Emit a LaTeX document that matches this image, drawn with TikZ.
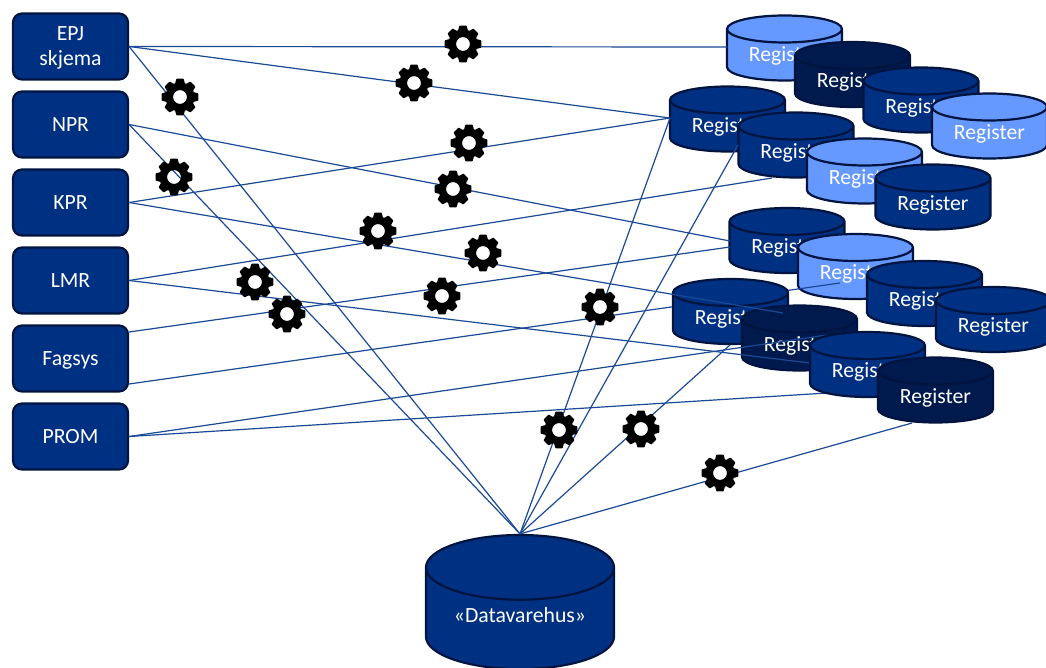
\documentclass[tikz,border=0pt]{standalone}
\usepackage{fontspec}
\setmainfont{Carlito}
\usetikzlibrary{shapes.geometric, positioning}

\definecolor{boxblue}{HTML}{003082}
\definecolor{darkblue}{HTML}{001A4D}
\definecolor{lightblue}{HTML}{6699FF}
\definecolor{edgeblue}{HTML}{00143F}
\definecolor{lineblue}{HTML}{1A4A96}

\tikzset{
    source/.style={draw=edgeblue, fill=boxblue, line width=2.2pt, rounded corners=9pt, text=white, font=\fontsize{21.7}{25}\selectfont, minimum width=115pt, minimum height=66pt, align=center, inner sep=0pt, text depth=0pt},
    register/.style={cylinder, anchor=shape center, shape border rotate=90, aspect=0.38, draw=edgeblue, line width=2.2pt, text=white, font=\fontsize{21.7}{25}\selectfont, minimum width=115pt, minimum height=65pt, inner sep=0pt, text depth=3pt, cylinder uses custom fill, cylinder body fill=#1, cylinder end fill=#1},
    feed/.style={draw=lineblue, line width=1.2pt},
    gearopen/.pic={
        \draw[black, line width=7.5pt] (0,0) circle (10.75pt);
        \foreach \a in {0,45,...,315}
            \filldraw[black, rotate=\a, line width=1.5pt, line join=round] (12,-4.6) -- (17.6,-3) -- (17.6,3) -- (12,4.6) -- cycle;
    },
    gearicon/.pic={
        \fill[white] (0,0) circle (8pt);
        \pic {gearopen};
    }
}

\begin{document}
\begin{tikzpicture}[x=1pt, y=-1pt]
        \clip (0,0) rectangle (1046,668);

        \node [source] (epj) at (70.5,46.5) {EPJ\\skjema};
        \node [source] (npr) at (70.5,124.5) {NPR};
        \node [source] (kpr) at (70.5,202.5) {KPR};
        \node [source] (lmr) at (70.5,280.5) {LMR};
        \node [source] (fagsys) at (70.5,358.5) {Fagsys};
        \node [source] (prom) at (70.5,436.5) {PROM};

        \node [register=lightblue] (regA) at (784.5,48) {Register};
        \node [register=darkblue] (regB) at (852.5,74.5) {Register};
        \node [register=boxblue] (regC) at (921,100) {Register};
        \node [register=lightblue] (regD) at (989.5,126) {Register};
        \node [register=boxblue] (regE) at (727.5,119) {Register};
        \node [register=boxblue] (regF) at (796,145) {Register};
        \node [register=lightblue] (regG) at (864.5,171) {Register};
        \node [register=boxblue] (regH) at (933,197) {Register};
        \node [register=boxblue] (regI) at (787,240.5) {Register};
        \node [register=lightblue] (regJ) at (855.5,266.5) {Register};
        \node [register=boxblue] (regK) at (924.5,293.5) {Register};
        \node [register=boxblue] (regL) at (993.5,319.5) {Register};

        \coordinate (endJ) at (840,283);
        \draw [feed] (fagsys.east |- 0,384) -- (endJ);

        \node [register=boxblue] (regM) at (730.5,311.5) {Register};
        \node [register=darkblue] (regN) at (799.5,338) {Register};

        \coordinate (endA) at (727,47);
        \coordinate (endE) at (670,118);
        \coordinate (endI1) at (730,241);
        \coordinate (endI2) at (730,247);
        \coordinate (endF) at (738,145);
        \coordinate (endG) at (772,178);
        \coordinate (endM) at (730,345);
        \coordinate (endN) at (783,313);
        \coordinate (endO1) at (810,363);
        \coordinate (endO2) at (827,335);
        \coordinate (endO3) at (827,393);
        \coordinate (endP) at (912,423);

        \node [register=boxblue, minimum width=188pt, minimum height=134pt, aspect=0.49, text depth=7pt] (dw) at (520,602) {«Datavarehus»};

        \draw [feed] (epj.east) -- (endA);
        \draw [feed] (epj.east) -- (endE);
        \draw [feed] (epj.east) -- (dw.north);
        \draw [feed] (npr.east) -- (endI1);
        \draw [feed] (npr.east) -- (dw.north);
        \draw [feed] (kpr.east) -- (endE);
        \draw [feed] (kpr.east) -- (endN);
        \draw [feed] (lmr.east) -- (endG);
        \draw [feed] (lmr.east) -- (endO1);
        \draw [feed] (fagsys.east |- 0,332) -- (endI2);
        \draw [feed] (prom.east) -- (endO2);
        \draw [feed] (prom.east) -- (endO3);
        \draw [feed] (dw.north) -- (endE);
        \draw [feed] (dw.north) -- (endF);
        \draw [feed] (dw.north) -- (endM);
        \draw [feed] (dw.north) -- (endP);

        \node [register=boxblue] (regO) at (867.5,364.5) {Register};
        \node [register=darkblue] (regP) at (935.5,390) {Register};

        \pic at (463,44) {gearicon};
        \pic at (414,83) {gearicon};
        \pic at (180,97) {gearicon};
        \pic at (469,143) {gearicon};
        \pic at (174,177) {gearopen};
        \pic at (453,189) {gearicon};
        \pic at (378,231) {gearicon};
        \pic at (483,253) {gearicon};
        \pic at (255,282) {gearicon};
        \pic at (287,314) {gearicon};
        \pic at (442,296) {gearicon};
        \pic at (600,307) {gearicon};
        \pic at (559,430) {gearicon};
        \pic at (641,429) {gearicon};
        \pic at (720,473) {gearicon};
    \end{tikzpicture}
\end{document}
